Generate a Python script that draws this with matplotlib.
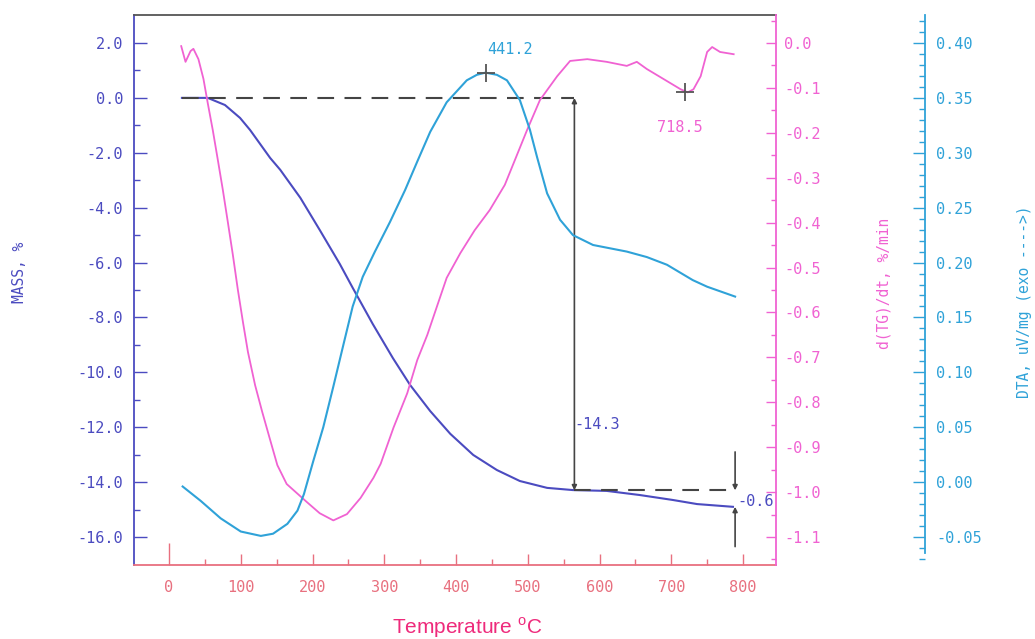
import matplotlib
matplotlib.use('Agg')
import matplotlib.pyplot as plt
from matplotlib.ticker import FixedLocator, MultipleLocator, FixedFormatter

# ---------------- data ----------------
temp_mass = [18, 54, 78, 99, 113, 127, 141, 155, 169, 183, 210, 238, 256, 284, 312,
             336, 364, 392, 424, 457, 489, 527, 563, 610, 656, 702, 736, 786]
mass = [0.0, 0.0, -0.26, -0.73, -1.17, -1.68, -2.19, -2.62, -3.13, -3.64, -4.81,
        -6.05, -6.92, -8.24, -9.48, -10.46, -11.41, -12.24, -13.01, -13.56, -13.96,
        -14.21, -14.29, -14.32, -14.47, -14.65, -14.80, -14.90]

temp_dtg = [17, 23, 30, 34, 41, 48, 54, 61, 68, 75, 82, 89, 96, 103, 110, 120, 130,
            141, 151, 164, 178, 192, 210, 229, 248, 267, 285, 295, 313, 332, 346,
            360, 374, 387, 406, 426, 447, 468, 482, 499, 517, 541, 559, 583, 610,
            638, 652, 666, 689, 713, 723, 731, 741, 750, 757, 768, 787]
dtg = [-0.007, -0.042, -0.018, -0.013, -0.036, -0.080, -0.134, -0.194, -0.260,
       -0.327, -0.399, -0.472, -0.550, -0.621, -0.688, -0.762, -0.822, -0.884,
       -0.940, -0.982, -1.002, -1.022, -1.047, -1.063, -1.049, -1.013, -0.968,
       -0.937, -0.856, -0.780, -0.706, -0.650, -0.584, -0.523, -0.468, -0.417,
       -0.372, -0.316, -0.261, -0.194, -0.127, -0.074, -0.040, -0.036, -0.042,
       -0.051, -0.042, -0.058, -0.080, -0.103, -0.110, -0.103, -0.074, -0.020,
       -0.009, -0.020, -0.025]

temp_dta = [19, 44, 72, 100, 128, 145, 165, 179, 188, 201, 215, 229, 243, 256, 270,
            287, 308, 329, 346, 364, 387, 415, 429, 441, 457, 471, 489, 503, 513,
            527, 545, 563, 591, 638, 666, 694, 730, 750, 789]
dta = [-0.004, -0.017, -0.033, -0.045, -0.049, -0.047, -0.038, -0.026, -0.011,
       0.019, 0.050, 0.087, 0.125, 0.160, 0.187, 0.210, 0.237, 0.266, 0.292,
       0.319, 0.346, 0.366, 0.371, 0.373, 0.371, 0.366, 0.348, 0.321, 0.296,
       0.263, 0.239, 0.225, 0.216, 0.210, 0.205, 0.198, 0.184, 0.178, 0.169]

x_ticks = [0, 100, 200, 300, 400, 500, 600, 700, 800]
x_labels = ['0', '100', '200', '300', '400', '500', '600', '700', '800']
mass_ticks = [2, 0, -2, -4, -6, -8, -10, -12, -14, -16]
mass_minor = [1, -1, -3, -5, -7, -9, -11, -13, -15]
mass_labels = ['2.0', '0.0', '-2.0', '-4.0', '-6.0', '-8.0', '-10.0', '-12.0',
               '-14.0', '-16.0']
dtg_ticks = [0.0, -0.1, -0.2, -0.3, -0.4, -0.5, -0.6, -0.7, -0.8, -0.9, -1.0, -1.1]
dtg_labels = ['0.0', '-0.1', '-0.2', '-0.3', '-0.4', '-0.5', '-0.6', '-0.7',
              '-0.8', '-0.9', '-1.0', '-1.1']
dta_ticks = [0.40, 0.35, 0.30, 0.25, 0.20, 0.15, 0.10, 0.05, 0.00, -0.05]
dta_labels = ['0.40', '0.35', '0.30', '0.25', '0.20', '0.15', '0.10', '0.05',
              '0.00', '-0.05']

dta_peak = (441.2, 0.373)
dtg_peak = (718.5, -0.110)
step1_T, step1_val = 565, -14.3
step2_T, step2_end = 789, -14.90

# ---------------- style ----------------
plt.rcParams['font.family'] = ['DejaVu Sans Mono']
plt.rcParams['mathtext.fontset'] = 'custom'
plt.rcParams['mathtext.rm'] = 'Liberation Sans'

MASS_C = '#4b4bc0'
DTG_C = '#f062d2'
DTA_C = '#2fa2d8'
X_C = '#e8707f'
TEMP_C = '#ee2a7b'
ANN_C = '#444444'
TS = 11

fig = plt.figure(figsize=(10.35, 6.39), dpi=100)
ax = fig.add_axes([134 / 1035, 1 - 565 / 639, 642 / 1035, 550 / 639])
ax2 = ax.twinx()
ax3 = ax.twinx()

# main (mass) axis
ax.plot(temp_mass, mass, color=MASS_C, lw=1.5, zorder=3)
ax.set_xlim(-48.8, 846)
ax.set_ylim(-17.02, 3.02)
ax.spines['right'].set_visible(False)
ax.spines['left'].set_color(MASS_C)
ax.spines['bottom'].set_color(X_C)
ax.spines['top'].set_color('#555555')
for s in ax.spines.values():
    s.set_linewidth(1.3)

ax.xaxis.set_major_locator(FixedLocator(x_ticks))
ax.xaxis.set_major_formatter(FixedFormatter(x_labels))
ax.xaxis.set_minor_locator(MultipleLocator(50))
ax.tick_params(axis='x', which='major', direction='in', length=8, width=1,
               color=X_C, labelcolor=X_C, labelsize=TS, pad=11, top=False)
ax.tick_params(axis='x', which='minor', direction='in', length=4, width=1,
               color=X_C, top=False)
ax.yaxis.set_major_locator(FixedLocator(mass_ticks))
ax.yaxis.set_major_formatter(FixedFormatter(mass_labels))
ax.yaxis.set_minor_locator(FixedLocator(mass_minor))
ax.tick_params(axis='y', which='major', direction='in', length=9, width=1,
               color=MASS_C, labelcolor=MASS_C, labelsize=TS, pad=8)
ax.tick_params(axis='y', which='minor', direction='in', length=4.5, width=1,
               color=MASS_C)
ax.xaxis.get_major_ticks()[0].tick1line.set_markersize(16)

# DTG axis
ax2.plot(temp_dtg, dtg, color=DTG_C, lw=1.3, zorder=3)
ax2.set_ylim(-1.1623, 0.0623)
for s in ['left', 'top', 'bottom']:
    ax2.spines[s].set_visible(False)
ax2.spines['right'].set_color(DTG_C)
ax2.spines['right'].set_linewidth(1.3)
ax2.yaxis.set_major_locator(FixedLocator(dtg_ticks))
ax2.yaxis.set_major_formatter(FixedFormatter(dtg_labels))
ax2.yaxis.set_minor_locator(MultipleLocator(0.05))
ax2.tick_params(axis='y', which='major', direction='in', length=7, width=1,
                color=DTG_C, labelcolor=DTG_C, labelsize=TS, pad=6)
ax2.tick_params(axis='y', which='minor', direction='in', length=3.5, width=1,
                color=DTG_C)

# DTA axis
ax3.plot(temp_dta, dta, color=DTA_C, lw=1.5, zorder=3)
ax3.set_ylim(-0.0755, 0.4255)
for s in ['left', 'top', 'bottom']:
    ax3.spines[s].set_visible(False)
ax3.spines['right'].set_position(('axes', 791 / 642))
ax3.spines['right'].set_color(DTA_C)
ax3.spines['right'].set_linewidth(1.3)
ax3.spines['right'].set_bounds(-0.0646, 0.4255)
ax3.yaxis.set_major_locator(FixedLocator(dta_ticks))
ax3.yaxis.set_major_formatter(FixedFormatter(dta_labels))
ax3.yaxis.set_minor_locator(MultipleLocator(0.01))
ax3.tick_params(axis='y', which='major', direction='in', length=9, width=1,
                color=DTA_C, labelcolor=DTA_C, labelsize=TS, pad=8)
ax3.tick_params(axis='y', which='minor', direction='in', length=4.5, width=1,
                color=DTA_C)

# ---------------- annotations ----------------
dash = (0, (8, 5))
ax.plot([temp_mass[0], step1_T], [0, 0], color=ANN_C, lw=1.5, ls=dash, zorder=4)
ax.plot([step1_T, step2_T], [step1_val, step1_val], color=ANN_C, lw=1.5, ls=dash,
        zorder=4)
ax.annotate('', xy=(step1_T, 0), xytext=(step1_T, step1_val),
            arrowprops=dict(arrowstyle='<|-|>', color=ANN_C, lw=1.2,
                            mutation_scale=7, shrinkA=0, shrinkB=0), zorder=4)
ax.annotate('', xy=(step2_T, step1_val), xytext=(step2_T, -12.9),
            arrowprops=dict(arrowstyle='-|>', color=ANN_C, lw=1.2,
                            mutation_scale=7, shrinkA=0, shrinkB=0), zorder=4)
ax.annotate('', xy=(step2_T, step2_end), xytext=(step2_T, -16.35),
            arrowprops=dict(arrowstyle='-|>', color=ANN_C, lw=1.2,
                            mutation_scale=7, shrinkA=0, shrinkB=0), zorder=4)
ax.text(step1_T, -11.9, '-14.3', color=MASS_C, ha='left', va='center', size=TS)
ax.text(step2_T + 3, -14.7, '-0.6', color=MASS_C, ha='left', va='center', size=TS)

ax3.plot([dta_peak[0]], [dta_peak[1]], marker='+', ms=13, mew=1.3, color='#555555',
         zorder=5)
ax3.text(dta_peak[0] + 2, 0.394, '441.2', color=DTA_C, ha='left', va='center',
         size=TS)
ax2.plot([dtg_peak[0]], [dtg_peak[1]], marker='+', ms=13, mew=1.3, color='#555555',
         zorder=5)
ax2.text(680, -0.189, '718.5', color=DTG_C, ha='left', va='center', size=TS)

# ---------------- axis titles ----------------
fig.text(20 / 1035, 1 - 272 / 639, 'MASS, %', rotation=90, ha='center', va='center',
         color=MASS_C, size=10.5)
fig.text(884 / 1035, 1 - 283 / 639, 'd(TG)/dt, %/min', rotation=90, ha='center',
         va='center', color=DTG_C, size=10.5)
fig.text(1025 / 1035, 1 - 302 / 639, 'DTA, uV/mg (exo ---->)', rotation=90,
         ha='center', va='center', color=DTA_C, size=10.5)
fig.text(467 / 1035, 1 - 628 / 639, r'Temperature $^{\rm o}$C', ha='center',
         va='center', color=TEMP_C, size=15, family='Liberation Sans')

fig.savefig('out.png', dpi=100)
